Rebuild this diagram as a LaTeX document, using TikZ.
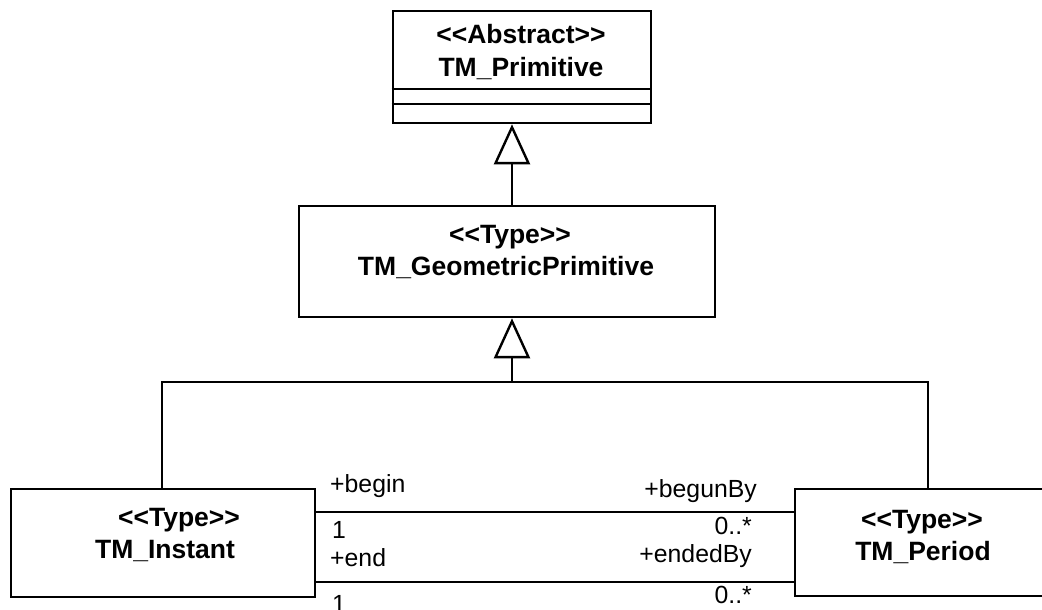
\documentclass[tikz,border=0pt]{standalone}
\usepackage{fontspec}
\setmainfont{Liberation Sans}
\usetikzlibrary{arrows.meta}
\begin{document}
\begin{tikzpicture}[x=1pt,y=-1pt,
  classbox/.style={draw, line width=2.6pt, inner sep=0pt, fill=white},
  cname/.style={anchor=base, inner sep=0pt, font=\fontsize{26.5}{30}\selectfont\bfseries},
  role/.style={inner sep=0pt, font=\fontsize{24.8}{28}\selectfont},
  link/.style={draw, line width=2.4pt},
  gen/.style={link, -{Triangle[open, length=40pt 0 0, width=36pt 0 0, line width=2.4pt]}}]
\useasboundingbox (0,0) rectangle (1042,610);

% class boxes
\node[classbox, minimum width=258pt, minimum height=112pt] (prim) at (522,67) {};
\node[classbox, minimum width=416pt, minimum height=111pt] (geo) at (507,261.5) {};
\node[classbox, minimum width=304pt, minimum height=108pt] (inst) at (163,543) {};
\node[classbox, minimum width=251pt, minimum height=107pt] (per) at (920.5,542.5) {};

% empty attribute and operation compartments of TM_Primitive
\coordinate (c1) at (0,89);
\coordinate (c2) at (0,104);
\draw[line width=2.4pt] (prim.west |- c1) -- (prim.east |- c1);
\draw[line width=2.4pt] (prim.west |- c2) -- (prim.east |- c2);

% class names (the {} keeps << and >> from turning into guillemets)
\node[cname] (primst) at (521,44) {<{}<Abstract>{}>};
\node[cname] (primnm) at (521,77) {TM\_Primitive};
\node[cname] (geost) at (510,243) {<{}<Type>{}>};
\node[cname] (geonm) at (506,275) {TM\_GeometricPrimitive};
\node[cname] (instst) at (179,526) {<{}<Type>{}>};
\node[cname] (instnm) at (165,558) {TM\_Instant};
\node[cname] (perst) at (922,528) {<{}<Type>{}>};
\node[cname] (pernm) at (923,560) {TM\_Period};

% generalization tree
\coordinate (stem) at (512,0);
\coordinate (bus) at (0,382);
\coordinate (leftx) at (162,0);
\coordinate (rightx) at (928,0);
\draw[gen] (geo.north -| stem) -- (prim.south -| stem);
\draw[gen] (stem |- bus) -- (geo.south -| stem);
\draw[link] (inst.north -| leftx) -- (leftx |- bus) -- (rightx |- bus) -- (per.north -| rightx);

% associations
\coordinate (ya) at (0,512);
\coordinate (yb) at (0,582);
\draw[link] (inst.east |- ya) -- (per.west |- ya);
\draw[link] (inst.east |- yb) -- (per.west |- yb);

% role names and multiplicities
\node[role, anchor=base west] (rbeg) at (330,492) {+begin};
\node[role, anchor=base west] (mbeg) at (332,538) {1};
\node[role, anchor=base west] (rend) at (330,566) {+end};
\node[role, anchor=base west] (mend) at (332,612) {1};
\node[role, anchor=base east] (rbby) at (757,497) {+begunBy};
\node[role, anchor=base east] (mbby) at (752,534) {0..*};
\node[role, anchor=base east] (reby) at (752,562) {+endedBy};
\node[role, anchor=base east] (meby) at (752,603) {0..*};
\end{tikzpicture}
\end{document}
